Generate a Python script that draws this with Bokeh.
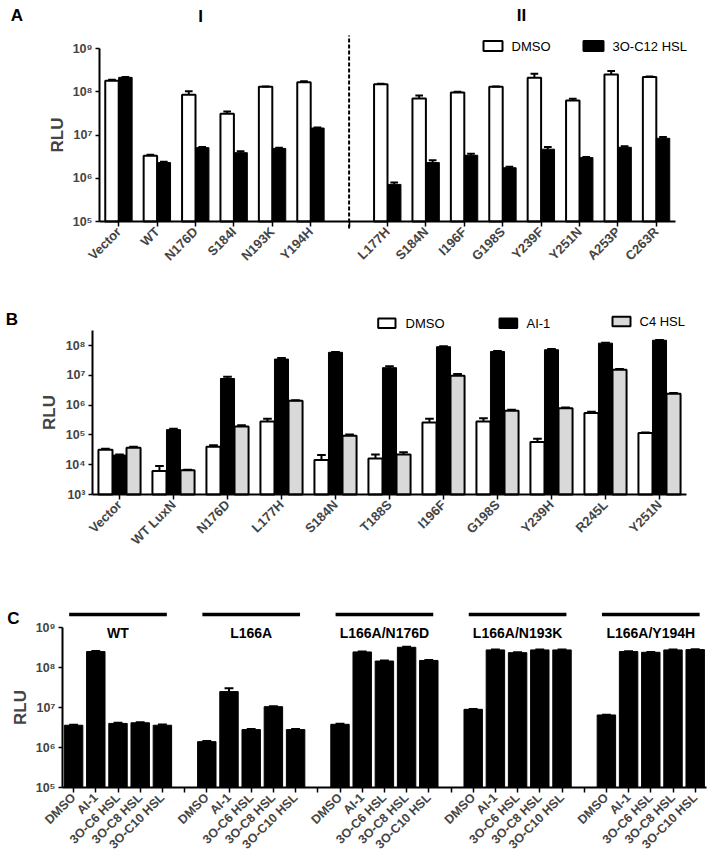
import numpy as np
from bokeh.plotting import figure
from bokeh.layouts import column
from bokeh.models import Range1d, FixedTicker, Label
from bokeh.embed import file_html
from bokeh.resources import INLINE

FONT = "Liberation Sans"
GRAY = "#d9d9d9"
FIG_W = 712

# ---------------- Panel A data ----------------
a_mutants = ["Vector", "WT", "N176D", "S184I", "N193K", "Y194H",
             "L177H", "S184N", "I196F", "G198S", "Y239F", "Y251N", "A253P", "C263R"]
a_dmso = [1.8e8, 3.3e6, 8.5e7, 3.1e7, 1.3e8, 1.65e8,
          1.5e8, 7.0e7, 9.6e7, 1.3e8, 2.1e8, 6.3e7, 2.5e8, 2.2e8]
a_dmso_err = [1.0e7, 2.0e5, 1.8e7, 4.0e6, 3.0e6, 1.0e7,
              3.0e6, 1.2e7, 4.0e6, 3.0e6, 5.0e7, 6.0e6, 5.0e7, 4.0e6]
a_hsl = [2.15e8, 2.3e6, 5.1e6, 3.9e6, 4.9e6, 1.45e7,
         7.2e5, 2.3e6, 3.4e6, 1.75e6, 4.7e6, 3.0e6, 5.2e6, 8.4e6]
a_hsl_err = [5.0e6, 1.0e5, 2.0e5, 3.0e5, 2.0e5, 5.0e5,
             8.0e4, 3.0e5, 3.0e5, 1.0e5, 6.0e5, 1.0e5, 3.0e5, 6.0e5]
a_group_sizes = [6, 8]
a_series = ["DMSO", "3O-C12 HSL"]

# ---------------- Panel B data ----------------
b_mutants = ["Vector", "WT LuxN", "N176D", "L177H", "S184N", "T188S",
             "I196F", "G198S", "Y239H", "R245L", "Y251N"]
b_dmso = [3.2e4, 6.2e3, 4.0e4, 2.8e5, 1.45e4, 1.6e4, 2.6e5, 2.8e5, 5.8e4, 5.4e5, 1.15e5]
b_dmso_err = [2.0e3, 2.9e3, 5.0e3, 7.0e4, 6.5e3, 6.0e3, 9.0e4, 8.0e4, 1.6e4, 6.0e4, 6.0e3]
b_ai1 = [2.1e4, 1.5e5, 7.8e6, 3.5e7, 5.9e7, 1.8e7, 9.1e7, 6.3e7, 7.2e7, 1.2e8, 1.5e8]
b_ai1_err = [1.0e3, 1.2e4, 1.1e6, 3.0e6, 2.0e6, 2.0e6, 3.0e6, 3.0e6, 5.0e6, 3.0e6, 3.0e6]
b_c4 = [3.7e4, 6.5e3, 1.9e5, 1.4e6, 9.3e4, 2.2e4, 9.6e6, 6.5e5, 7.9e5, 1.55e7, 2.4e6]
b_c4_err = [3.0e3, 3.0e2, 2.0e4, 5.0e4, 1.0e4, 4.0e3, 1.4e6, 5.0e4, 4.0e4, 8.0e5, 1.5e5]
b_series = ["DMSO", "AI-1", "C4 HSL"]

# ---------------- Panel C data ----------------
c_groups = ["WT", "L166A", "L166A/N176D", "L166A/N193K", "L166A/Y194H"]
c_conditions = ["DMSO", "AI-1", "3O-C6 HSL", "3O-C8 HSL", "3O-C10 HSL"]
c_values = [
    [3.6e6, 2.5e8, 4.0e6, 4.15e6, 3.6e6],
    [1.4e6, 2.5e7, 2.8e6, 1.05e7, 2.8e6],
    [3.8e6, 2.45e8, 1.45e8, 3.2e8, 1.5e8],
    [9.0e6, 2.75e8, 2.35e8, 2.75e8, 2.75e8],
    [6.5e6, 2.5e8, 2.4e8, 2.75e8, 2.8e8],
]
c_errors = [
    [1.0e5, 1.0e7, 1.5e5, 1.5e5, 1.5e5],
    [5.0e4, 5.5e6, 1.0e5, 2.0e5, 1.0e5],
    [1.0e5, 5.0e6, 5.0e6, 1.0e7, 4.0e6],
    [2.0e5, 8.0e6, 5.0e6, 8.0e6, 5.0e6],
    [1.0e5, 5.0e6, 5.0e6, 5.0e6, 5.0e6],
]


def sup(n):
    return "10" + "⁰¹²³⁴⁵⁶⁷⁸⁹"[n]


def base_fig(height, xr, xbounds, yr, ybounds, ydecades, xfs):
    # the frame covers the whole figure; both axes are pinned where the
    # other axis starts, so labels and letters outside the plotting area show
    p = figure(width=FIG_W, height=height, x_range=Range1d(*xr), y_range=Range1d(*yr),
               y_axis_type="log", output_backend="svg", toolbar_location=None,
               min_border_left=0, min_border_right=0,
               min_border_top=0, min_border_bottom=0)
    p.grid.visible = False
    p.outline_line_color = None
    p.background_fill_color = "white"
    p.border_fill_color = "white"
    ya = p.yaxis[0]
    ya.fixed_location = xbounds[0]
    ya.ticker = FixedTicker(ticks=[10 ** k for k in ydecades], minor_ticks=[])
    ya.major_label_overrides = {10 ** k: sup(k) for k in ydecades}
    ya.bounds = ybounds
    ya.axis_line_width = 2
    ya.major_tick_line_width = 1.5
    ya.major_tick_out = 4
    ya.major_tick_in = 0
    ya.minor_tick_line_color = None
    ya.major_label_text_font = FONT
    ya.major_label_text_font_style = "bold"
    ya.major_label_text_font_size = "12.5px"
    ya.major_label_standoff = 3
    ya.axis_label = "RLU"
    ya.axis_label_text_font = FONT
    ya.axis_label_text_font_style = "bold"
    ya.axis_label_text_font_size = "17px"
    ya.axis_label_standoff = 3
    xa = p.xaxis[0]
    xa.fixed_location = ybounds[0]
    xa.bounds = xbounds
    xa.axis_line_width = 2
    xa.major_tick_line_width = 1.5
    xa.major_tick_out = 5
    xa.major_tick_in = 0
    xa.minor_tick_line_color = None
    xa.major_label_text_font = FONT
    xa.major_label_text_font_style = "bold"
    xa.major_label_text_font_size = xfs
    xa.major_label_orientation = np.pi / 4
    xa.major_label_standoff = 3
    return p


def text(p, x, y, t, size="13px", bold=False, align="left"):
    p.add_layout(Label(x=x, y=y, text=t, text_font=FONT, text_font_size=size,
                       text_font_style="bold" if bold else "normal",
                       text_align=align, text_baseline="middle", text_color="black"))


def errbars(p, xs, tops, errs, capw):
    xs = np.asarray(xs, float)
    tops = np.asarray(tops, float)
    up = tops + np.asarray(errs, float)
    p.segment(x0=xs, y0=tops, x1=xs, y1=up, line_color="black", line_width=2)
    p.segment(x0=xs - capw, y0=up, x1=xs + capw, y1=up, line_color="black", line_width=2)


# ======================= Panel A =======================
# page-pixel helpers used only to place the frame and the annotations
A_LEFT, A_SLOT, A_BASE, A_DEC, A_TOP, A_BOT = 99.0, 38.4, 221.0, 43.25, 0, 290
def ax(px): return (px - A_LEFT) / A_SLOT - 0.5
def ay(py): return 10 ** (5 + (A_BASE - py) / A_DEC)

a_n = sum(a_group_sizes) + len(a_group_sizes) - 1
a_x = np.array([i if i < a_group_sizes[0] else i + 1 for i in range(len(a_mutants))], float)
pA = base_fig(A_BOT - A_TOP, (ax(0), ax(FIG_W)), (-0.5, a_n - 0.5), (ay(A_BOT), ay(A_TOP)),
              (1e5, 1e9), [5, 6, 7, 8, 9], "13px")
bw = 0.35
pA.vbar(x=a_x - bw / 2, width=bw, top=a_dmso, bottom=1e5, fill_color="white",
        line_color="black", line_width=2)
pA.vbar(x=a_x + bw / 2, width=bw, top=a_hsl, bottom=1e5, fill_color="black",
        line_color="black", line_width=1)
errbars(pA, a_x - bw / 2, a_dmso, a_dmso_err, 0.1)
errbars(pA, a_x + bw / 2, a_hsl, a_hsl_err, 0.1)
gap = float(a_group_sizes[0])
pA.segment(x0=[gap], y0=[ay(228)], x1=[gap], y1=[ay(35)], line_color="black",
           line_width=2, line_dash="4 2")
xt = list(a_x.astype(int)) + [int(gap)]
pA.xaxis[0].ticker = FixedTicker(ticks=sorted(xt), minor_ticks=[])
ov = {int(x): m for x, m in zip(a_x, a_mutants)}
ov[int(gap)] = ""
pA.xaxis[0].major_label_overrides = ov
pA.quad(left=[ax(483)], right=[ax(502)], top=[ay(40.5)], bottom=[ay(50.5)],
        fill_color="white", line_color="black", line_width=2)
text(pA, ax(511), ay(45.5), a_series[0])
pA.quad(left=[ax(583)], right=[ax(603)], top=[ay(40.5)], bottom=[ay(50.5)],
        fill_color="black", line_color="black", line_width=2)
text(pA, ax(612), ay(45.5), a_series[1])
text(pA, ax(200), ay(16), "I", size="17px", bold=True, align="center")
text(pA, ax(521), ay(15), "II", size="17px", bold=True, align="center")
text(pA, ax(16.5), ay(15), "A", size="17px", bold=True, align="center")

# ======================= Panel B =======================
B_LEFT, B_SLOT, B_BASE, B_DEC, B_TOP, B_BOT = 92.0, 54.0, 494.0, 29.8, 290, 558
def bx(px): return (px - B_LEFT) / B_SLOT - 0.5
def by(py): return 10 ** (3 + (B_BASE - py) / B_DEC)

b_x = np.arange(len(b_mutants), dtype=float)
pB = base_fig(B_BOT - B_TOP, (bx(0), bx(FIG_W)), (-0.5, len(b_mutants) - 0.5), (by(B_BOT), by(B_TOP)),
              (1e3, by(330)), [3, 4, 5, 6, 7, 8], "13px")
bw = 0.26
pB.vbar(x=b_x - bw, width=bw, top=b_dmso, bottom=1e3, fill_color="white",
        line_color="black", line_width=2)
pB.vbar(x=b_x, width=bw, top=b_ai1, bottom=1e3, fill_color="black",
        line_color="black", line_width=1)
pB.vbar(x=b_x + bw, width=bw, top=b_c4, bottom=1e3, fill_color=GRAY,
        line_color="black", line_width=2)
errbars(pB, b_x - bw, b_dmso, b_dmso_err, 0.08)
errbars(pB, b_x, b_ai1, b_ai1_err, 0.08)
errbars(pB, b_x + bw, b_c4, b_c4_err, 0.08)
pB.xaxis[0].ticker = FixedTicker(ticks=list(range(len(b_mutants))), minor_ticks=[])
pB.xaxis[0].major_label_overrides = {i: m for i, m in enumerate(b_mutants)}
for (l, r, yc, tx), fc, s in zip([(377.7, 395, 322.7, 405), (499, 516.7, 322.7, 526), (612, 630, 321, 639)],
                                 ["white", "black", GRAY], b_series):
    pB.quad(left=[bx(l)], right=[bx(r)], top=[by(yc - 4.7)], bottom=[by(yc + 4.7)],
            fill_color=fc, line_color="black", line_width=2)
    text(pB, bx(tx), by(yc), s)
text(pB, bx(11.5), by(319), "B", size="17px", bold=True, align="center")

# ======================= Panel C =======================
C_LEFT, C_SLOT, C_BASE, C_DEC, C_TOP, C_BOT = 62.0, 22.2, 787.0, 40.0, 558, 856
def cx(px): return (px - C_LEFT) / C_SLOT - 0.5
def cy(py): return 10 ** (5 + (C_BASE - py) / C_DEC)

per = len(c_conditions) + 1
c_n = len(c_groups) * per - 1
pC = base_fig(C_BOT - C_TOP, (cx(0), cx(FIG_W)), (-0.5, c_n - 0.5), (cy(C_BOT), cy(C_TOP)),
              (1e5, 1e9), [5, 6, 7, 8, 9], "12.5px")
xs, tops, errs = [], [], []
for g, (vals, es) in enumerate(zip(c_values, c_errors)):
    for k, (v, e) in enumerate(zip(vals, es)):
        xs.append(g * per + k)
        tops.append(v)
        errs.append(e)
xs = np.array(xs, float)
pC.vbar(x=xs, width=0.83, top=tops, bottom=1e5, fill_color="black", line_color="black", line_width=1)
errbars(pC, xs, tops, errs, 0.2)
pC.xaxis[0].ticker = FixedTicker(ticks=list(range(c_n)), minor_ticks=[])
ovc = {}
for i in range(c_n):
    k = i % per
    ovc[i] = c_conditions[k] if k < len(c_conditions) else ""
pC.xaxis[0].major_label_overrides = ovc
gx0 = np.arange(len(c_groups)) * per - 0.5
pC.segment(x0=gx0 + 0.3, y0=[cy(614)] * len(c_groups), x1=gx0 + 4.7, y1=[cy(614)] * len(c_groups),
           line_color="black", line_width=3.5)
for g, name in enumerate(c_groups):
    text(pC, g * per + 2, cy(632), name, size="14px", bold=True, align="center")
text(pC, cx(13), cy(618), "C", size="17px", bold=True, align="center")

layout = column(pA, pB, pC)
open("out.html", "w").write(file_html(layout, INLINE))
